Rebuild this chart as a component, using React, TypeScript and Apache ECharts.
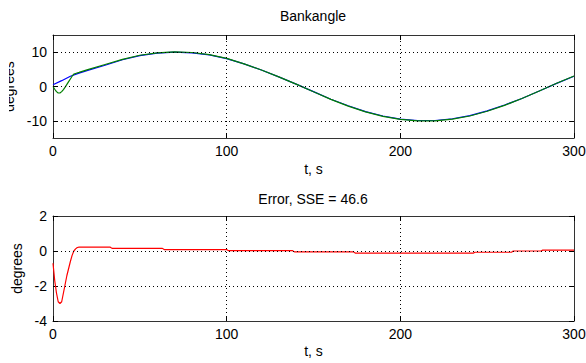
import React, { useEffect, useRef } from "react";
import * as echarts from "echarts";

// ---- data ----
const refT = [0, 5, 10, 15, 20, 30, 40, 50, 60, 70, 80, 90, 100, 110, 120, 130, 140, 150, 160, 170, 180, 190, 200, 210, 220, 230, 240, 250, 260, 270, 280, 290, 300];
const refV = [0.5, 1.7, 3.0, 3.9, 4.7, 6.2, 7.8, 9.0, 9.7, 10.0, 9.8, 9.2, 8.1, 6.6, 4.8, 2.8, 0.7, -1.5, -3.7, -5.6, -7.3, -8.6, -9.5, -9.9, -9.9, -9.4, -8.5, -7.1, -5.4, -3.5, -1.3, 0.9, 3.0];

const actT = [0, 1, 2, 3, 4, 5, 6, 7, 8, 9, 10, 11, 12, 13, 15, 20, 30, 40, 50, 60, 70, 80, 90, 100, 110, 120, 130, 140, 150, 160, 170, 180, 190, 200, 210, 220, 230, 240, 250, 260, 270, 280, 290, 300];
const actV = [0.0, -0.8, -1.5, -1.9, -1.9, -1.5, -0.9, -0.2, 0.6, 1.4, 2.2, 3.0, 3.6, 3.8, 4.1, 4.9, 6.4, 7.9, 9.1, 9.8, 10.1, 9.9, 9.3, 8.2, 6.6, 4.8, 2.8, 0.7, -1.55, -3.75, -5.7, -7.4, -8.7, -9.6, -10.0, -10.0, -9.5, -8.6, -7.2, -5.5, -3.5, -1.3, 0.95, 3.05];

const errT = [0, 1, 2, 3, 4, 5, 6, 7, 8, 9, 10, 11, 12, 13, 14, 15, 17, 33, 34, 63, 64, 100, 101, 138, 139, 173, 174, 242, 243, 264, 265, 281, 282, 300];
const errV = [-0.7, -1.7, -2.4, -2.9, -3.0, -2.9, -2.4, -1.9, -1.4, -1.0, -0.6, -0.25, 0.0, 0.12, 0.2, 0.22, 0.22, 0.22, 0.15, 0.15, 0.08, 0.08, 0.02, 0.02, -0.05, -0.05, -0.12, -0.12, -0.07, -0.07, 0.0, 0.0, 0.05, 0.05];

const xGrid = [100, 200];
const topYTicks = [-10, 0, 10];
const botYGrid = [-2, 0];

const topTitle = "Bankangle";
const botTitle = "Error, SSE = 46.6";
const xName = "t, s";
const yName = "degrees";

const FONT = "Liberation Sans";

function pairs(t: number[], v: number[]) {
  return t.map((x, i) => [x, v[i]]);
}

export default function App() {
  const ref = useRef<HTMLDivElement>(null);
  useEffect(() => {
    if (!ref.current) return;
    const chart = echarts.init(ref.current, undefined, { renderer: "svg" });
    const axisColor = "#333";
    const labelStyle = { color: "#000", fontSize: 14, fontFamily: FONT };
    const tickIn = { show: true, inside: true, length: 5, lineStyle: { color: "#000" } };
    const line = { show: true, onZero: false, lineStyle: { color: axisColor } };
    const nameStyle = { color: "#000", fontSize: 14, fontFamily: FONT };
    const xBottom = (gi: number, gap: number) => ({
      type: "value",
      gridIndex: gi,
      min: 0,
      max: 300,
      interval: 100,
      position: "bottom",
      axisLine: line,
      axisTick: tickIn,
      axisLabel: { ...labelStyle, margin: 6 },
      splitLine: { show: false },
      name: xName,
      nameLocation: "middle",
      nameGap: gap,
      nameMoveOverlap: false,
      nameTextStyle: nameStyle,
    });
    const xTop = (gi: number) => ({
      type: "value",
      gridIndex: gi,
      min: 0,
      max: 300,
      interval: 100,
      position: "top",
      axisLine: line,
      axisTick: tickIn,
      axisLabel: { show: false },
      splitLine: { show: false },
    });
    const gridLines = (ys: number[], xs: number[]) => ({
      silent: true,
      symbol: ["none", "none"],
      label: { show: false },
      lineStyle: { color: "#000", type: [1, 3], width: 1 },
      emphasis: { disabled: true },
      data: [...ys.map((y) => ({ yAxis: y })), ...xs.map((x) => ({ xAxis: x }))],
    });
    const option: any = {
      animation: false,
      backgroundColor: "#fff",
      textStyle: { fontFamily: FONT },
      grid: [
        { left: 53, top: 35, width: 521, height: 103, containLabel: false, outerBoundsMode: "none" },
        { left: 53, top: 216, width: 521, height: 105, containLabel: false, outerBoundsMode: "none" },
      ],
      xAxis: [xBottom(0, 24), xTop(0), xBottom(1, 23), xTop(1)],
      yAxis: [
        {
          type: "value",
          gridIndex: 0,
          min: -15,
          max: 15,
          interval: 5,
          position: "left",
          axisLine: line,
          axisTick: { ...tickIn, customValues: topYTicks },
          axisLabel: {
            ...labelStyle,
            margin: 6,
            customValues: topYTicks,
            formatter: (v: number) => (topYTicks.includes(v) ? String(v) : ""),
          },
          splitLine: { show: false },
          name: yName,
          nameLocation: "middle",
          nameGap: 37,
          nameMoveOverlap: false,
          nameTextStyle: nameStyle,
        },
        {
          type: "value",
          gridIndex: 0,
          min: -15,
          max: 15,
          interval: 5,
          position: "right",
          axisLine: line,
          axisTick: { ...tickIn, customValues: topYTicks },
          axisLabel: { show: false },
          splitLine: { show: false },
        },
        {
          type: "value",
          gridIndex: 1,
          min: -4,
          max: 2,
          interval: 2,
          position: "left",
          axisLine: line,
          axisTick: tickIn,
          axisLabel: { ...labelStyle, margin: 6 },
          splitLine: { show: false },
          name: yName,
          nameLocation: "middle",
          nameGap: 29,
          nameMoveOverlap: false,
          nameTextStyle: nameStyle,
        },
        {
          type: "value",
          gridIndex: 1,
          min: -4,
          max: 2,
          interval: 2,
          position: "right",
          axisLine: line,
          axisTick: tickIn,
          axisLabel: { show: false },
          splitLine: { show: false },
        },
      ],
      series: [
        {
          type: "line",
          xAxisIndex: 0,
          yAxisIndex: 0,
          data: [],
          z: 1,
          markLine: gridLines(topYTicks, xGrid),
        },
        {
          type: "line",
          xAxisIndex: 0,
          yAxisIndex: 0,
          data: pairs(refT, refV),
          showSymbol: false,
          symbol: "none",
          lineStyle: { color: "#0000ff", width: 1.2 },
          z: 2,
        },
        {
          type: "line",
          xAxisIndex: 0,
          yAxisIndex: 0,
          data: pairs(actT, actV),
          showSymbol: false,
          symbol: "none",
          lineStyle: { color: "#008000", width: 1.2 },
          z: 3,
        },
        {
          type: "line",
          xAxisIndex: 2,
          yAxisIndex: 2,
          data: [],
          z: 1,
          markLine: gridLines(botYGrid, xGrid),
        },
        {
          type: "line",
          xAxisIndex: 2,
          yAxisIndex: 2,
          data: pairs(errT, errV),
          showSymbol: false,
          symbol: "none",
          lineStyle: { color: "#ff0000", width: 1.2 },
          z: 3,
        },
      ],
      graphic: [
        {
          type: "text",
          x: 313,
          y: 16,
          z: 100,
          style: { text: topTitle, align: "center", verticalAlign: "middle", fontSize: 14, fontFamily: FONT, fill: "#000" },
        },
        {
          type: "text",
          x: 313,
          y: 199,
          z: 100,
          style: { text: botTitle, align: "center", verticalAlign: "middle", fontSize: 14, fontFamily: FONT, fill: "#000" },
        },
        {
          type: "rect",
          z: 100,
          shape: { x: 0, y: 50, width: 9, height: 75 },
          style: { fill: "#fff" },
        },
      ],
    };
    chart.setOption(option);
    return () => chart.dispose();
  }, []);
  return (
    <div
      ref={ref}
      style={{ position: "fixed", left: 0, top: 0, width: 586, height: 363, background: "#fff" }}
    />
  );
}
